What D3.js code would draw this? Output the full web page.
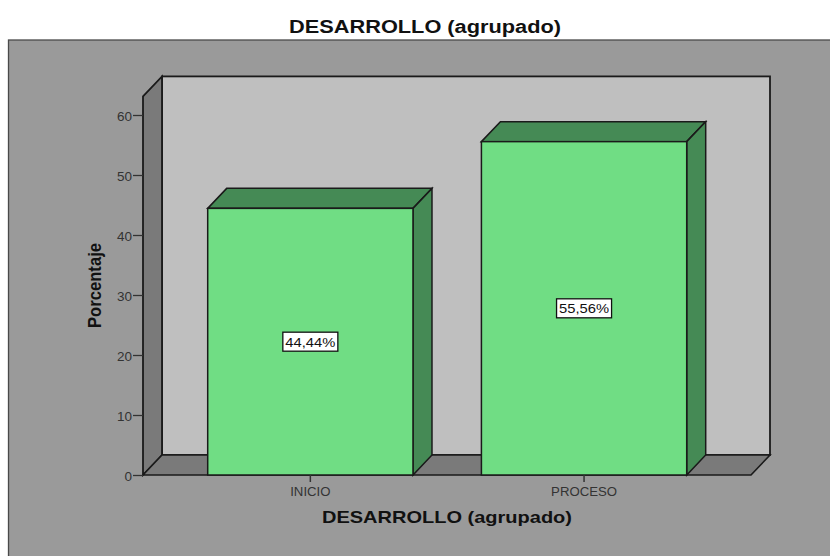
<!DOCTYPE html>
<html>
<head>
<meta charset="utf-8">
<script src="https://cdn.jsdelivr.net/npm/d3@7"></script>
<style>
  html, body { margin: 0; padding: 0; background: #fff; overflow: hidden; }
  text { font-family: "Liberation Sans", Arial, sans-serif; }
</style>
</head>
<body>
<div id="graph"></div>
<script>
// data
const categories = ["INICIO", "PROCESO"];
const percentages = [44.44, 55.56];
const valueLabels = ["44,44%", "55,56%"];
const yTicks = [0, 10, 20, 30, 40, 50, 60];
const yMax = 63.1;

const width = 830, height = 556;
const depthX = 19, depthY = -20; // 3d offset of the box

const svg = d3.select("#graph")
    .append("svg")
    .attr("width", width)
    .attr("height", height)
    .style("display", "block");

// scales, 6px per percent
const y = d3.scaleLinear().domain([0, yMax]).range([475, 475 - yMax * 6]);
const x = d3.scaleBand()
    .domain(categories)
    .range([207.7, 686.7])
    .paddingInner(0.25);

const left = 143, right = 751;
const bottom = y(0), top3d = y(yMax);
const line = d3.line();
const dark = "#1a1a1a";

// outer panel
svg.append("rect")
    .attr("x", 8.5).attr("y", 40)
    .attr("width", 840).attr("height", 540)
    .attr("fill", "#9a9a9a")
    .attr("stroke", "#4a4a4a")
    .attr("stroke-width", 1.3);

// back wall
svg.append("rect")
    .attr("x", left + depthX).attr("y", top3d + depthY)
    .attr("width", right - left).attr("height", bottom - top3d)
    .attr("fill", "#bfbfbf")
    .attr("stroke", dark).attr("stroke-width", 1.8);

// left wall
svg.append("path")
    .attr("d", line([[left, bottom], [left, top3d], [left + depthX, top3d + depthY], [left + depthX, bottom + depthY]]) + "Z")
    .attr("fill", "#7a7a7a")
    .attr("stroke", dark).attr("stroke-width", 1.8);

// floor
svg.append("path")
    .attr("d", line([[left, bottom], [right, bottom], [right + depthX, bottom + depthY], [left + depthX, bottom + depthY]]) + "Z")
    .attr("fill", "#7a7a7a")
    .attr("stroke", dark).attr("stroke-width", 1.6);

// bars
const bars = svg.selectAll(".bar")
    .data(categories)
    .enter()
    .append("g")
    .attr("class", "bar");

bars.append("path")
    .attr("d", function (d, i) {
        const x0 = x(d), x1 = x(d) + x.bandwidth(), t = y(percentages[i]);
        return line([[x0, t], [x0 + depthX, t + depthY], [x1 + depthX, t + depthY], [x1, t]]) + "Z";
    })
    .attr("fill", "#458a55").attr("stroke", dark).attr("stroke-width", 1.5);

bars.append("path")
    .attr("d", function (d, i) {
        const x1 = x(d) + x.bandwidth(), t = y(percentages[i]);
        return line([[x1, t], [x1 + depthX, t + depthY], [x1 + depthX, bottom + depthY], [x1, bottom]]) + "Z";
    })
    .attr("fill", "#458a55").attr("stroke", dark).attr("stroke-width", 1.5);

bars.append("rect")
    .attr("x", d => x(d))
    .attr("y", (d, i) => y(percentages[i]))
    .attr("width", x.bandwidth())
    .attr("height", (d, i) => bottom - y(percentages[i]))
    .attr("fill", "#70dd84")
    .attr("stroke", dark).attr("stroke-width", 1.5);

// value labels in the middle of the bars
bars.append("rect")
    .attr("x", d => x(d) + x.bandwidth() / 2 - 27.5)
    .attr("y", (d, i) => y(percentages[i] / 2) - 9.5)
    .attr("width", 55)
    .attr("height", 19)
    .attr("fill", "#fff")
    .attr("stroke", "#111")
    .attr("stroke-width", 1.3);

bars.append("text")
    .attr("x", d => x(d) + x.bandwidth() / 2)
    .attr("y", (d, i) => y(percentages[i] / 2) + 5)
    .attr("text-anchor", "middle")
    .attr("font-size", 13.5)
    .attr("textLength", 50)
    .attr("lengthAdjust", "spacingAndGlyphs")
    .attr("fill", "#111")
    .text((d, i) => valueLabels[i]);

// axes
const yAxis = svg.append("g")
    .attr("transform", "translate(" + left + ",0)")
    .call(d3.axisLeft(y).tickValues(yTicks).tickFormat(d3.format("d")).tickSize(10).tickPadding(1));
yAxis.select(".domain").remove();
yAxis.selectAll("line").attr("stroke", "#333").attr("stroke-width", 1.3);
yAxis.selectAll("text").attr("font-size", 13.5).attr("fill", "#333").attr("dy", "0.4em")
    .style("font-family", '"Liberation Sans", Arial, sans-serif');

const xAxis = svg.append("g")
    .attr("transform", "translate(0," + bottom + ")")
    .call(d3.axisBottom(x).tickSize(7).tickPadding(4.5));
xAxis.select(".domain").remove();
xAxis.selectAll("line").attr("stroke", "#333").attr("stroke-width", 1.5);
xAxis.selectAll("text").attr("font-size", 13.2).attr("fill", "#333")
    .style("font-family", '"Liberation Sans", Arial, sans-serif');

// titles
svg.append("text")
    .attr("x", 425).attr("y", 32.5)
    .attr("text-anchor", "middle")
    .attr("font-size", 17.5).attr("font-weight", "bold").attr("fill", "#111")
    .attr("textLength", 272)
    .attr("lengthAdjust", "spacingAndGlyphs")
    .text("DESARROLLO (agrupado)");

svg.append("text")
    .attr("x", 447).attr("y", 522.5)
    .attr("text-anchor", "middle")
    .attr("font-size", 17).attr("font-weight", "bold").attr("fill", "#111")
    .attr("textLength", 250)
    .attr("lengthAdjust", "spacingAndGlyphs")
    .text("DESARROLLO (agrupado)");

svg.append("text")
    .attr("transform", "translate(100.5,285.5) rotate(-90)")
    .attr("text-anchor", "middle")
    .attr("font-size", 19).attr("font-weight", "bold").attr("fill", "#111")
    .attr("textLength", 85)
    .attr("lengthAdjust", "spacingAndGlyphs")
    .text("Porcentaje");
</script>
</body>
</html>
